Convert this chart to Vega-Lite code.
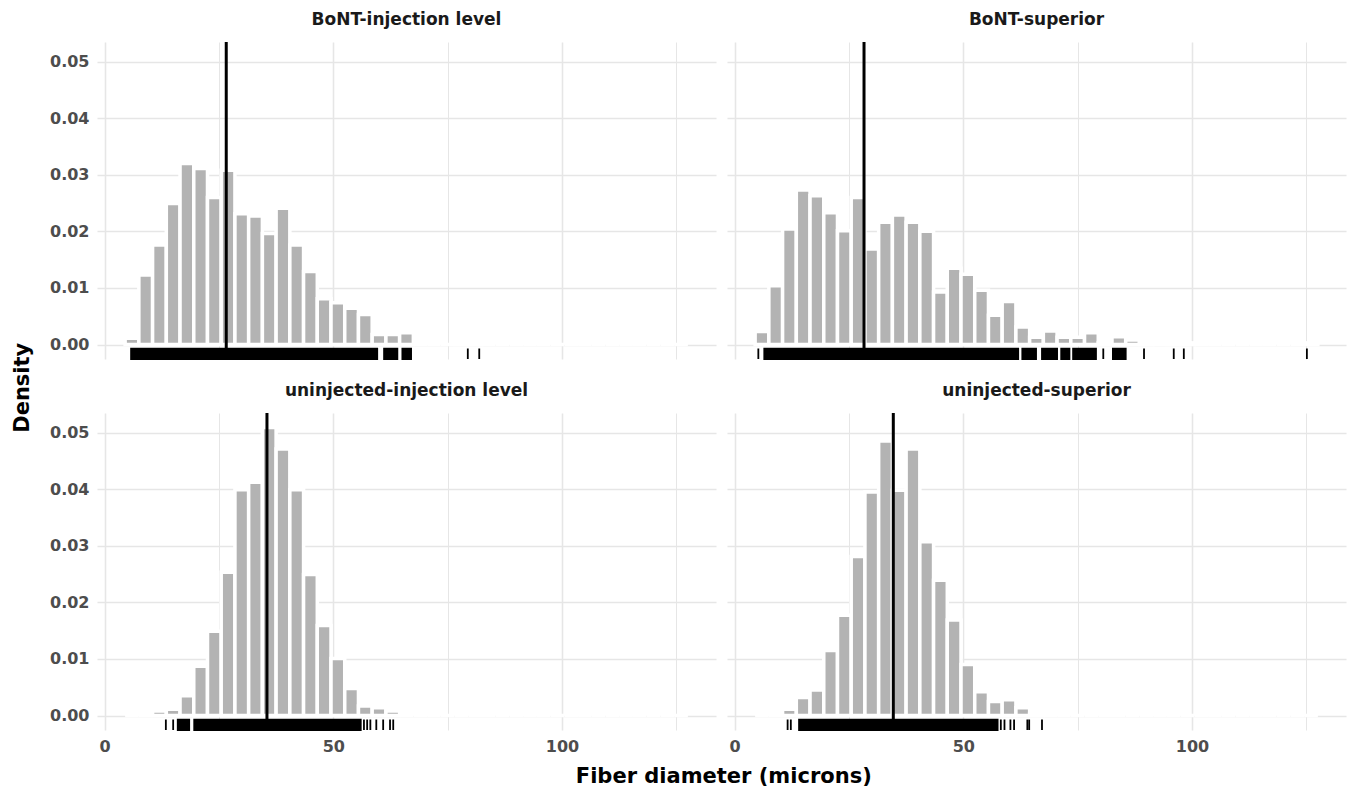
{
  "$schema": "https://vega.github.io/schema/vega-lite/v6.json",
  "padding": {"left": 11, "top": 10, "right": 4, "bottom": 4},
  "background": "white",
  "config": {
    "font": "DejaVu Sans",
    "view": {"stroke": null},
    "axis": {"domain": false, "ticks": false, "tickSize": 0, "labelFont": "DejaVu Sans", "labelFontSize": 16, "labelFontWeight": "bold", "labelColor": "#4d4d4d", "gridColor": "#e6e6e6", "title": null, "labelOverlap": false},
    "header": {"title": null, "labelFont": "DejaVu Sans", "labelFontSize": 17, "labelFontWeight": "bold", "labelColor": "#1a1a1a", "labelPadding": 12},
    "title": {"font": "DejaVu Sans", "fontSize": 21, "fontWeight": "bold", "color": "#000000"}
  },
  "title": {"text": "Density", "orient": "left", "anchor": "middle", "offset": 17, "dx": 11},
  "vconcat": [
    {
      "title": {"text": "Fiber diameter (microns)", "orient": "bottom", "anchor": "middle", "offset": 12, "dx": 26},
      "data": {"values": [
        {"p":"BoNT-injection level","t":"bin","a":4.5,"b":7.5,"d":0.0011},
        {"p":"BoNT-injection level","t":"bin","a":7.5,"b":10.5,"d":0.0123},
        {"p":"BoNT-injection level","t":"bin","a":10.5,"b":13.5,"d":0.0176},
        {"p":"BoNT-injection level","t":"bin","a":13.5,"b":16.5,"d":0.0249},
        {"p":"BoNT-injection level","t":"bin","a":16.5,"b":19.5,"d":0.0320},
        {"p":"BoNT-injection level","t":"bin","a":19.5,"b":22.5,"d":0.0311},
        {"p":"BoNT-injection level","t":"bin","a":22.5,"b":25.5,"d":0.0260},
        {"p":"BoNT-injection level","t":"bin","a":25.5,"b":28.5,"d":0.0308},
        {"p":"BoNT-injection level","t":"bin","a":28.5,"b":31.5,"d":0.0231},
        {"p":"BoNT-injection level","t":"bin","a":31.5,"b":34.5,"d":0.0227},
        {"p":"BoNT-injection level","t":"bin","a":34.5,"b":37.5,"d":0.0196},
        {"p":"BoNT-injection level","t":"bin","a":37.5,"b":40.5,"d":0.0241},
        {"p":"BoNT-injection level","t":"bin","a":40.5,"b":43.5,"d":0.0176},
        {"p":"BoNT-injection level","t":"bin","a":43.5,"b":46.5,"d":0.0129},
        {"p":"BoNT-injection level","t":"bin","a":46.5,"b":49.5,"d":0.0081},
        {"p":"BoNT-injection level","t":"bin","a":49.5,"b":52.5,"d":0.0074},
        {"p":"BoNT-injection level","t":"bin","a":52.5,"b":55.5,"d":0.0064},
        {"p":"BoNT-injection level","t":"bin","a":55.5,"b":58.5,"d":0.0053},
        {"p":"BoNT-injection level","t":"bin","a":58.5,"b":61.5,"d":0.0018},
        {"p":"BoNT-injection level","t":"bin","a":61.5,"b":64.5,"d":0.0018},
        {"p":"BoNT-injection level","t":"bin","a":64.5,"b":67.5,"d":0.0021},
        {"p":"BoNT-injection level","t":"bin","a":67.5,"b":70.5,"d":0},
        {"p":"BoNT-injection level","t":"bin","a":70.5,"b":73.5,"d":0},
        {"p":"BoNT-injection level","t":"bin","a":73.5,"b":76.5,"d":0},
        {"p":"BoNT-injection level","t":"bin","a":76.5,"b":79.5,"d":0.0003},
        {"p":"BoNT-injection level","t":"bin","a":79.5,"b":82.5,"d":0.0003},
        {"p":"BoNT-injection level","t":"bin","a":82.5,"b":85.5,"d":0},
        {"p":"BoNT-injection level","t":"bin","a":85.5,"b":88.5,"d":0},
        {"p":"BoNT-injection level","t":"bin","a":88.5,"b":91.5,"d":0},
        {"p":"BoNT-injection level","t":"bin","a":91.5,"b":94.5,"d":0},
        {"p":"BoNT-injection level","t":"bin","a":94.5,"b":97.5,"d":0},
        {"p":"BoNT-injection level","t":"bin","a":97.5,"b":100.5,"d":0},
        {"p":"BoNT-injection level","t":"bin","a":100.5,"b":103.5,"d":0},
        {"p":"BoNT-injection level","t":"bin","a":103.5,"b":106.5,"d":0},
        {"p":"BoNT-injection level","t":"bin","a":106.5,"b":109.5,"d":0},
        {"p":"BoNT-injection level","t":"bin","a":109.5,"b":112.5,"d":0},
        {"p":"BoNT-injection level","t":"bin","a":112.5,"b":115.5,"d":0},
        {"p":"BoNT-injection level","t":"bin","a":115.5,"b":118.5,"d":0},
        {"p":"BoNT-injection level","t":"bin","a":118.5,"b":121.5,"d":0},
        {"p":"BoNT-injection level","t":"bin","a":121.5,"b":124.5,"d":0},
        {"p":"BoNT-injection level","t":"bin","a":124.5,"b":127.5,"d":0},

        {"p":"BoNT-superior","t":"bin","a":4.5,"b":7.5,"d":0.0023},
        {"p":"BoNT-superior","t":"bin","a":7.5,"b":10.5,"d":0.0104},
        {"p":"BoNT-superior","t":"bin","a":10.5,"b":13.5,"d":0.0204},
        {"p":"BoNT-superior","t":"bin","a":13.5,"b":16.5,"d":0.0273},
        {"p":"BoNT-superior","t":"bin","a":16.5,"b":19.5,"d":0.0263},
        {"p":"BoNT-superior","t":"bin","a":19.5,"b":22.5,"d":0.0233},
        {"p":"BoNT-superior","t":"bin","a":22.5,"b":25.5,"d":0.0201},
        {"p":"BoNT-superior","t":"bin","a":25.5,"b":28.5,"d":0.0260},
        {"p":"BoNT-superior","t":"bin","a":28.5,"b":31.5,"d":0.0169},
        {"p":"BoNT-superior","t":"bin","a":31.5,"b":34.5,"d":0.0216},
        {"p":"BoNT-superior","t":"bin","a":34.5,"b":37.5,"d":0.0229},
        {"p":"BoNT-superior","t":"bin","a":37.5,"b":40.5,"d":0.0216},
        {"p":"BoNT-superior","t":"bin","a":40.5,"b":43.5,"d":0.0200},
        {"p":"BoNT-superior","t":"bin","a":43.5,"b":46.5,"d":0.0093},
        {"p":"BoNT-superior","t":"bin","a":46.5,"b":49.5,"d":0.0135},
        {"p":"BoNT-superior","t":"bin","a":49.5,"b":52.5,"d":0.0124},
        {"p":"BoNT-superior","t":"bin","a":52.5,"b":55.5,"d":0.0096},
        {"p":"BoNT-superior","t":"bin","a":55.5,"b":58.5,"d":0.0052},
        {"p":"BoNT-superior","t":"bin","a":58.5,"b":61.5,"d":0.0076},
        {"p":"BoNT-superior","t":"bin","a":61.5,"b":64.5,"d":0.0031},
        {"p":"BoNT-superior","t":"bin","a":64.5,"b":67.5,"d":0.0013},
        {"p":"BoNT-superior","t":"bin","a":67.5,"b":70.5,"d":0.0024},
        {"p":"BoNT-superior","t":"bin","a":70.5,"b":73.5,"d":0.0013},
        {"p":"BoNT-superior","t":"bin","a":73.5,"b":76.5,"d":0.0013},
        {"p":"BoNT-superior","t":"bin","a":76.5,"b":79.5,"d":0.0021},
        {"p":"BoNT-superior","t":"bin","a":79.5,"b":82.5,"d":0.0003},
        {"p":"BoNT-superior","t":"bin","a":82.5,"b":85.5,"d":0.0014},
        {"p":"BoNT-superior","t":"bin","a":85.5,"b":88.5,"d":0.0008},
        {"p":"BoNT-superior","t":"bin","a":88.5,"b":91.5,"d":0.0003},
        {"p":"BoNT-superior","t":"bin","a":91.5,"b":94.5,"d":0},
        {"p":"BoNT-superior","t":"bin","a":94.5,"b":97.5,"d":0.0003},
        {"p":"BoNT-superior","t":"bin","a":97.5,"b":100.5,"d":0.0003},
        {"p":"BoNT-superior","t":"bin","a":100.5,"b":103.5,"d":0},
        {"p":"BoNT-superior","t":"bin","a":103.5,"b":106.5,"d":0},
        {"p":"BoNT-superior","t":"bin","a":106.5,"b":109.5,"d":0},
        {"p":"BoNT-superior","t":"bin","a":109.5,"b":112.5,"d":0},
        {"p":"BoNT-superior","t":"bin","a":112.5,"b":115.5,"d":0},
        {"p":"BoNT-superior","t":"bin","a":115.5,"b":118.5,"d":0},
        {"p":"BoNT-superior","t":"bin","a":118.5,"b":121.5,"d":0},
        {"p":"BoNT-superior","t":"bin","a":121.5,"b":124.5,"d":0},
        {"p":"BoNT-superior","t":"bin","a":124.5,"b":127.5,"d":0.0003},

        {"p":"uninjected-injection level","t":"bin","a":4.5,"b":7.5,"d":0},
        {"p":"uninjected-injection level","t":"bin","a":7.5,"b":10.5,"d":0},
        {"p":"uninjected-injection level","t":"bin","a":10.5,"b":13.5,"d":0.0008},
        {"p":"uninjected-injection level","t":"bin","a":13.5,"b":16.5,"d":0.0011},
        {"p":"uninjected-injection level","t":"bin","a":16.5,"b":19.5,"d":0.0035},
        {"p":"uninjected-injection level","t":"bin","a":19.5,"b":22.5,"d":0.0087},
        {"p":"uninjected-injection level","t":"bin","a":22.5,"b":25.5,"d":0.0149},
        {"p":"uninjected-injection level","t":"bin","a":25.5,"b":28.5,"d":0.0253},
        {"p":"uninjected-injection level","t":"bin","a":28.5,"b":31.5,"d":0.0399},
        {"p":"uninjected-injection level","t":"bin","a":31.5,"b":34.5,"d":0.0412},
        {"p":"uninjected-injection level","t":"bin","a":34.5,"b":37.5,"d":0.0509},
        {"p":"uninjected-injection level","t":"bin","a":37.5,"b":40.5,"d":0.0471},
        {"p":"uninjected-injection level","t":"bin","a":40.5,"b":43.5,"d":0.0399},
        {"p":"uninjected-injection level","t":"bin","a":43.5,"b":46.5,"d":0.0249},
        {"p":"uninjected-injection level","t":"bin","a":46.5,"b":49.5,"d":0.0159},
        {"p":"uninjected-injection level","t":"bin","a":49.5,"b":52.5,"d":0.0101},
        {"p":"uninjected-injection level","t":"bin","a":52.5,"b":55.5,"d":0.0048},
        {"p":"uninjected-injection level","t":"bin","a":55.5,"b":58.5,"d":0.0017},
        {"p":"uninjected-injection level","t":"bin","a":58.5,"b":61.5,"d":0.0014},
        {"p":"uninjected-injection level","t":"bin","a":61.5,"b":64.5,"d":0.0008},
        {"p":"uninjected-injection level","t":"bin","a":64.5,"b":67.5,"d":0},
        {"p":"uninjected-injection level","t":"bin","a":67.5,"b":70.5,"d":0},
        {"p":"uninjected-injection level","t":"bin","a":70.5,"b":73.5,"d":0},
        {"p":"uninjected-injection level","t":"bin","a":73.5,"b":76.5,"d":0},
        {"p":"uninjected-injection level","t":"bin","a":76.5,"b":79.5,"d":0},
        {"p":"uninjected-injection level","t":"bin","a":79.5,"b":82.5,"d":0},
        {"p":"uninjected-injection level","t":"bin","a":82.5,"b":85.5,"d":0},
        {"p":"uninjected-injection level","t":"bin","a":85.5,"b":88.5,"d":0},
        {"p":"uninjected-injection level","t":"bin","a":88.5,"b":91.5,"d":0},
        {"p":"uninjected-injection level","t":"bin","a":91.5,"b":94.5,"d":0},
        {"p":"uninjected-injection level","t":"bin","a":94.5,"b":97.5,"d":0},
        {"p":"uninjected-injection level","t":"bin","a":97.5,"b":100.5,"d":0},
        {"p":"uninjected-injection level","t":"bin","a":100.5,"b":103.5,"d":0},
        {"p":"uninjected-injection level","t":"bin","a":103.5,"b":106.5,"d":0},
        {"p":"uninjected-injection level","t":"bin","a":106.5,"b":109.5,"d":0},
        {"p":"uninjected-injection level","t":"bin","a":109.5,"b":112.5,"d":0},
        {"p":"uninjected-injection level","t":"bin","a":112.5,"b":115.5,"d":0},
        {"p":"uninjected-injection level","t":"bin","a":115.5,"b":118.5,"d":0},
        {"p":"uninjected-injection level","t":"bin","a":118.5,"b":121.5,"d":0},
        {"p":"uninjected-injection level","t":"bin","a":121.5,"b":124.5,"d":0},
        {"p":"uninjected-injection level","t":"bin","a":124.5,"b":127.5,"d":0},

        {"p":"uninjected-superior","t":"bin","a":4.5,"b":7.5,"d":0},
        {"p":"uninjected-superior","t":"bin","a":7.5,"b":10.5,"d":0},
        {"p":"uninjected-superior","t":"bin","a":10.5,"b":13.5,"d":0.0011},
        {"p":"uninjected-superior","t":"bin","a":13.5,"b":16.5,"d":0.0032},
        {"p":"uninjected-superior","t":"bin","a":16.5,"b":19.5,"d":0.0045},
        {"p":"uninjected-superior","t":"bin","a":19.5,"b":22.5,"d":0.0115},
        {"p":"uninjected-superior","t":"bin","a":22.5,"b":25.5,"d":0.0177},
        {"p":"uninjected-superior","t":"bin","a":25.5,"b":28.5,"d":0.0281},
        {"p":"uninjected-superior","t":"bin","a":28.5,"b":31.5,"d":0.0395},
        {"p":"uninjected-superior","t":"bin","a":31.5,"b":34.5,"d":0.0485},
        {"p":"uninjected-superior","t":"bin","a":34.5,"b":37.5,"d":0.0398},
        {"p":"uninjected-superior","t":"bin","a":37.5,"b":40.5,"d":0.0471},
        {"p":"uninjected-superior","t":"bin","a":40.5,"b":43.5,"d":0.0307},
        {"p":"uninjected-superior","t":"bin","a":43.5,"b":46.5,"d":0.0239},
        {"p":"uninjected-superior","t":"bin","a":46.5,"b":49.5,"d":0.0169},
        {"p":"uninjected-superior","t":"bin","a":49.5,"b":52.5,"d":0.0090},
        {"p":"uninjected-superior","t":"bin","a":52.5,"b":55.5,"d":0.0042},
        {"p":"uninjected-superior","t":"bin","a":55.5,"b":58.5,"d":0.0025},
        {"p":"uninjected-superior","t":"bin","a":58.5,"b":61.5,"d":0.0028},
        {"p":"uninjected-superior","t":"bin","a":61.5,"b":64.5,"d":0.0014},
        {"p":"uninjected-superior","t":"bin","a":64.5,"b":67.5,"d":0.0003},
        {"p":"uninjected-superior","t":"bin","a":67.5,"b":70.5,"d":0},
        {"p":"uninjected-superior","t":"bin","a":70.5,"b":73.5,"d":0},
        {"p":"uninjected-superior","t":"bin","a":73.5,"b":76.5,"d":0},
        {"p":"uninjected-superior","t":"bin","a":76.5,"b":79.5,"d":0},
        {"p":"uninjected-superior","t":"bin","a":79.5,"b":82.5,"d":0},
        {"p":"uninjected-superior","t":"bin","a":82.5,"b":85.5,"d":0},
        {"p":"uninjected-superior","t":"bin","a":85.5,"b":88.5,"d":0},
        {"p":"uninjected-superior","t":"bin","a":88.5,"b":91.5,"d":0},
        {"p":"uninjected-superior","t":"bin","a":91.5,"b":94.5,"d":0},
        {"p":"uninjected-superior","t":"bin","a":94.5,"b":97.5,"d":0},
        {"p":"uninjected-superior","t":"bin","a":97.5,"b":100.5,"d":0},
        {"p":"uninjected-superior","t":"bin","a":100.5,"b":103.5,"d":0},
        {"p":"uninjected-superior","t":"bin","a":103.5,"b":106.5,"d":0},
        {"p":"uninjected-superior","t":"bin","a":106.5,"b":109.5,"d":0},
        {"p":"uninjected-superior","t":"bin","a":109.5,"b":112.5,"d":0},
        {"p":"uninjected-superior","t":"bin","a":112.5,"b":115.5,"d":0},
        {"p":"uninjected-superior","t":"bin","a":115.5,"b":118.5,"d":0},
        {"p":"uninjected-superior","t":"bin","a":118.5,"b":121.5,"d":0},
        {"p":"uninjected-superior","t":"bin","a":121.5,"b":124.5,"d":0},
        {"p":"uninjected-superior","t":"bin","a":124.5,"b":127.5,"d":0},

        {"p":"BoNT-injection level","t":"rug","a":5.8,"b":59.6},
        {"p":"BoNT-injection level","t":"rug","a":61.1,"b":64.0},
        {"p":"BoNT-injection level","t":"rug","a":65.1,"b":67.0},
        {"p":"BoNT-injection level","t":"rug","a":79.4,"b":79.4},
        {"p":"BoNT-injection level","t":"rug","a":81.9,"b":81.9},

        {"p":"BoNT-superior","t":"rug","a":5.2,"b":5.2},
        {"p":"BoNT-superior","t":"rug","a":6.5,"b":62.0},
        {"p":"BoNT-superior","t":"rug","a":62.9,"b":65.9},
        {"p":"BoNT-superior","t":"rug","a":67.2,"b":70.5},
        {"p":"BoNT-superior","t":"rug","a":71.4,"b":73.2},
        {"p":"BoNT-superior","t":"rug","a":74.0,"b":79.0},
        {"p":"BoNT-superior","t":"rug","a":80.6,"b":80.6},
        {"p":"BoNT-superior","t":"rug","a":82.7,"b":85.5},
        {"p":"BoNT-superior","t":"rug","a":89.5,"b":89.5},
        {"p":"BoNT-superior","t":"rug","a":96.0,"b":96.0},
        {"p":"BoNT-superior","t":"rug","a":98.2,"b":98.2},
        {"p":"BoNT-superior","t":"rug","a":125.1,"b":125.1},

        {"p":"uninjected-injection level","t":"rug","a":13.4,"b":13.4},
        {"p":"uninjected-injection level","t":"rug","a":15.0,"b":15.0},
        {"p":"uninjected-injection level","t":"rug","a":16.0,"b":18.5},
        {"p":"uninjected-injection level","t":"rug","a":19.6,"b":56.0},
        {"p":"uninjected-injection level","t":"rug","a":56.7,"b":56.7},
        {"p":"uninjected-injection level","t":"rug","a":57.4,"b":57.4},
        {"p":"uninjected-injection level","t":"rug","a":58.1,"b":58.1},
        {"p":"uninjected-injection level","t":"rug","a":59.4,"b":59.4},
        {"p":"uninjected-injection level","t":"rug","a":60.9,"b":60.9},
        {"p":"uninjected-injection level","t":"rug","a":62.4,"b":62.4},
        {"p":"uninjected-injection level","t":"rug","a":63.1,"b":63.1},

        {"p":"uninjected-superior","t":"rug","a":11.6,"b":11.6},
        {"p":"uninjected-superior","t":"rug","a":12.3,"b":12.3},
        {"p":"uninjected-superior","t":"rug","a":14.1,"b":57.5},
        {"p":"uninjected-superior","t":"rug","a":58.2,"b":58.2},
        {"p":"uninjected-superior","t":"rug","a":59.0,"b":59.0},
        {"p":"uninjected-superior","t":"rug","a":60.3,"b":60.3},
        {"p":"uninjected-superior","t":"rug","a":61.1,"b":61.1},
        {"p":"uninjected-superior","t":"rug","a":64.0,"b":64.0},
        {"p":"uninjected-superior","t":"rug","a":64.4,"b":64.4},
        {"p":"uninjected-superior","t":"rug","a":67.2,"b":67.2},

        {"p":"BoNT-injection level","t":"mean","a":26.6},
        {"p":"BoNT-superior","t":"mean","a":28.3},
        {"p":"uninjected-injection level","t":"mean","a":35.5},
        {"p":"uninjected-superior","t":"mean","a":34.7}
      ]},
      "facet": {"field": "p", "type": "nominal", "sort": ["BoNT-injection level", "BoNT-superior", "uninjected-injection level", "uninjected-superior"]},
      "columns": 2,
      "spacing": {"row": 20, "column": 11},
      "spec": {
        "width": 619,
        "height": 317,
        "layer": [
          {
            "transform": [{"filter": "datum.t === 'bin'"}],
            "mark": {"type": "rect", "fill": "#b3b3b3", "stroke": "white", "strokeWidth": 3.5},
            "encoding": {
              "x": {"field": "a", "type": "quantitative", "scale": {"domain": [-1.65, 133.65], "nice": false, "zero": false},
                    "axis": {"values": [0, 25, 50, 75, 100, 125], "labelExpr": "datum.value % 50 === 0 ? datum.label : ''", "labelPadding": 6,
                             "gridWidth": {"condition": {"test": "datum.value % 50 === 0", "value": 1.6}, "value": 1.0}}},
              "x2": {"field": "b"},
              "y": {"field": "d", "type": "quantitative", "scale": {"domain": [-0.00255, 0.05345], "nice": false, "zero": false},
                    "axis": {"values": [0, 0.005, 0.01, 0.015, 0.02, 0.025, 0.03, 0.035, 0.04, 0.045, 0.05], "labelExpr": "abs(datum.value * 100 - round(datum.value * 100)) < 0.001 ? format(datum.value, '.2f') : ''", "labelPadding": 8,
                             "gridWidth": {"condition": {"test": "abs(datum.value * 100 - round(datum.value * 100)) < 0.001", "value": 1.6}, "value": 1.0}}},
              "y2": {"datum": 0}
            }
          },
          {
            "transform": [{"filter": "datum.t === 'rug'"}],
            "mark": {"type": "rect", "fill": "black", "stroke": "black", "strokeWidth": 1.8},
            "encoding": {
              "x": {"field": "a", "type": "quantitative", "scale": {"domain": [-1.65, 133.65], "nice": false, "zero": false}},
              "x2": {"field": "b"},
              "y": {"datum": -0.00255, "type": "quantitative", "scale": {"domain": [-0.00255, 0.05345], "nice": false, "zero": false}},
              "y2": {"datum": -0.0007}
            }
          },
          {
            "transform": [{"filter": "datum.t === 'mean'"}],
            "mark": {"type": "rule", "color": "black", "strokeWidth": 3},
            "encoding": {
              "x": {"field": "a", "type": "quantitative", "scale": {"domain": [-1.65, 133.65], "nice": false, "zero": false}}
            }
          }
        ]
      }
    }
  ]
}
